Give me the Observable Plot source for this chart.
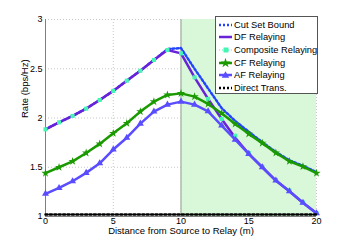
<!DOCTYPE html>
<html><head><meta charset="utf-8">
<script src="https://cdn.jsdelivr.net/npm/d3@7"></script>
<script src="https://cdn.jsdelivr.net/npm/@observablehq/plot@0.6"></script>
<style>
html,body{margin:0;padding:0;background:#fff;}
#wrap{position:relative;width:349px;height:244px;font-family:"Liberation Sans",Arial,sans-serif;}
#legend{position:absolute;left:215px;top:16px;width:103px;height:78px;background:#fff;border:1px solid #555;box-sizing:border-box;font-size:9.3px;color:#000;}
#legend .row{position:absolute;left:0;height:12px;display:flex;align-items:center;white-space:nowrap;}
#legend svg{margin-left:2px;margin-right:1px;}
</style></head>
<body><div id="wrap"><div id="chart"></div><div id="legend"></div></div>
<script>
const distance = [0,1,2,3,4,5,6,7,8,9,10,11,12,13,14,15,16,17,18,19,20];
const cutSet    = [1.885,1.956,2.021,2.095,2.183,2.275,2.379,2.48,2.589,2.70,2.71,2.50,2.30,2.10,1.97,1.86,1.755,1.655,1.57,1.515,1.45];
const dfRelay   = [1.885,1.956,2.021,2.095,2.183,2.275,2.379,2.48,2.589,2.69,2.656,2.413,2.194,1.99,1.80,1.636,1.50,1.365,1.257,1.139,1.033];
const composite = [1.885,1.956,2.021,2.095,2.183,2.275,2.379,2.48,2.589,2.69,2.656,2.413,2.194,1.99,1.82,1.646,1.505,1.37,1.264,1.142,1.035];
const cfRelay   = [1.44,1.50,1.56,1.645,1.737,1.845,1.946,2.065,2.166,2.234,2.25,2.217,2.143,2.048,1.94,1.839,1.745,1.646,1.561,1.507,1.44];
const afRelay   = [1.23,1.29,1.358,1.443,1.54,1.68,1.80,1.943,2.065,2.136,2.166,2.136,2.068,1.923,1.78,1.636,1.50,1.365,1.257,1.139,1.033];
const direct    = [1.02,1.02,1.02,1.02,1.02,1.02,1.02,1.02,1.02,1.02,1.02,1.02,1.02,1.02,1.02,1.02,1.02,1.02,1.02,1.02,1.02];
const xTicks = [0,5,10,15,20];
const yTicks = [1,1.5,2,2.5,3];
const yTickLabels = ["1","1.5","2","2.5","3"];
const shadeFrom = 10, shadeTo = 20;
const xLabel = "Distance from Source to Relay (m)";
const yLabel = "Rate (bps/Hz)";
const seriesNames = ["Cut Set Bound","DF Relaying","Composite Relaying","CF Relaying","AF Relaying","Direct Trans."];

const C = {cut:"#2244ff", df:"#6a22d8", comp:"#44f5b4", cf:"#1a9a00", af:"#5a4cff", direct:"#000"};
const pts = (ys) => distance.map((x,i)=>({x, y: ys[i]}));

const chart = Plot.plot({
  width: 349, height: 244,
  marginLeft: 45, marginRight: 33, marginTop: 19, marginBottom: 28,
  style: {fontFamily: '"Liberation Sans", Arial, sans-serif', fontSize: "9px", color: "#000", background: "#fff"},
  x: {domain: [0,20], ticks: xTicks, tickSize: 0, tickPadding: 1, label: null},
  y: {domain: [1,3], ticks: yTicks, tickFormat: (d)=>yTickLabels[yTicks.indexOf(d)], tickSize: 0, tickPadding: 3, label: null},
  marks: [
    Plot.ruleX(xTicks, {stroke: "#c8c8c8", strokeDasharray: "1,2"}),
    Plot.ruleY(yTicks, {stroke: "#c8c8c8", strokeDasharray: "1,2"}),
    Plot.rect([{x1: shadeFrom, x2: shadeTo}], {x1: "x1", x2: "x2", y1: 1, y2: 3, fill: "#d9f8d9"}),
    Plot.ruleX([shadeFrom], {stroke: "#9a9a9a", strokeWidth: 1}),
    Plot.ruleX([0], {stroke: "#808080"}),
    Plot.ruleY([1], {stroke: "#808080"}),
    Plot.line(pts(cutSet), {x:"x", y:"y", stroke: C.cut, strokeWidth: 2.5, strokeDasharray: "2,2.2"}),
    Plot.line(pts(dfRelay), {x:"x", y:"y", stroke: C.df, strokeWidth: 2.5}),
    Plot.dot(pts(composite), {x:"x", y:"y", symbol: "square", r: 2.3, fill: C.comp, stroke: "none"}),
    Plot.line(pts(cfRelay), {x:"x", y:"y", stroke: C.cf, strokeWidth: 2.5}),
    Plot.dot(pts(cfRelay), {x:"x", y:"y", symbol: "star", r: 2.6, fill: C.cf, stroke: "none"}),
    Plot.line(pts(afRelay), {x:"x", y:"y", stroke: C.af, strokeWidth: 2.5}),
    Plot.dot(pts(afRelay), {x:"x", y:"y", symbol: "triangle", r: 2.6, fill: C.af, stroke: "none"}),
    Plot.line(pts(direct), {x:"x", y:"y", stroke: C.direct, strokeWidth: 2.5, strokeDasharray: "2,2.4"}),
    Plot.text([yLabel], {frameAnchor: "left", dx: -21, rotate: -90, fontSize: 9.5}),
    Plot.text([xLabel], {frameAnchor: "bottom", dy: 17, fontSize: 9.5})
  ]
});
document.getElementById("chart").appendChild(chart);

// legend
const legend = document.getElementById("legend");
const samples = [
  `<line x1="1" y1="6" x2="14" y2="6" stroke="${C.cut}" stroke-width="2.5" stroke-dasharray="2,2"/>`,
  `<line x1="1" y1="6" x2="14" y2="6" stroke="${C.df}" stroke-width="2.5"/>`,
  `<line x1="1" y1="6" x2="14" y2="6" stroke="${C.comp}" stroke-width="1" stroke-dasharray="1,2"/><rect x="5.5" y="3.5" width="5" height="5" fill="${C.comp}"/>`,
  `<line x1="1" y1="6" x2="14" y2="6" stroke="${C.cf}" stroke-width="2.5"/><path transform="translate(7.5,6)" d="${d3.symbol(d3.symbolStar, 30)()}" fill="${C.cf}"/>`,
  `<line x1="1" y1="6" x2="14" y2="6" stroke="${C.af}" stroke-width="2.5"/><path transform="translate(7.5,6.5)" d="${d3.symbol(d3.symbolTriangle, 24)()}" fill="${C.af}"/>`,
  `<line x1="1" y1="6" x2="14" y2="6" stroke="${C.direct}" stroke-width="2.5" stroke-dasharray="2,2"/>`
];
const rowY = [2, 14, 27, 40, 52, 65];
seriesNames.forEach((name,i)=>{
  const r = document.createElement("div");
  r.className = "row";
  r.style.top = rowY[i] + "px";
  r.innerHTML = `<svg width="15" height="12">${samples[i]}</svg><span>${name}</span>`;
  legend.appendChild(r);
});
</script></body></html>
